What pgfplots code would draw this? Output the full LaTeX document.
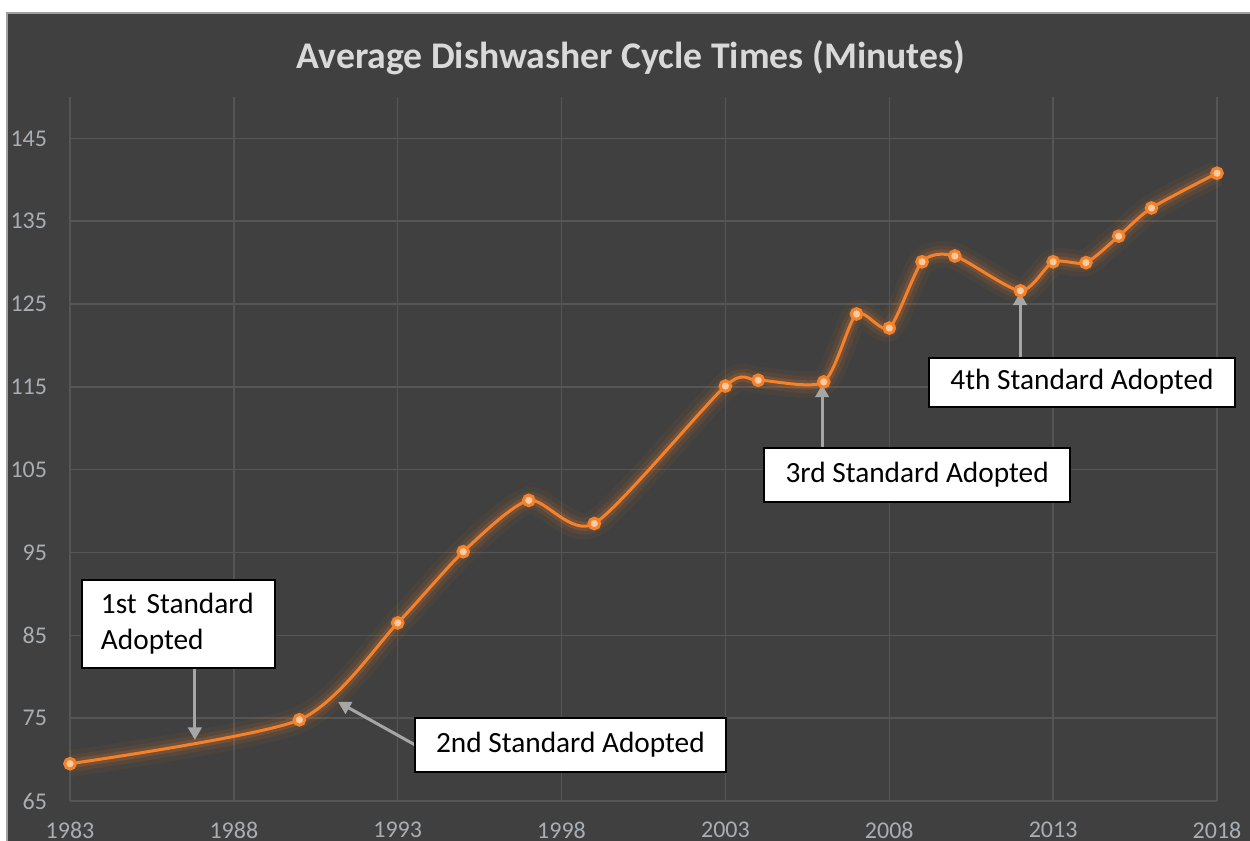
\documentclass[border=0pt]{standalone}
\usepackage{pgfplots}
\pgfplotsset{compat=1.18}
\usepackage{pgfplotstable}
\usepackage{fontspec}
\setmainfont{Carlito}
\usetikzlibrary{arrows.meta}
\definecolor{bg}{HTML}{404040}
\definecolor{gridcol}{HTML}{555555}
\definecolor{tickcol}{HTML}{A9AEB3}
\definecolor{titlecol}{HTML}{D9D9D9}
\definecolor{framegray}{HTML}{A0A0A0}
\definecolor{lineorange}{HTML}{F5822A}
\definecolor{peach}{HTML}{F9CBA3}
\definecolor{arrowgray}{HTML}{A6A6A6}

\pgfplotstableread{
year minutes
1983 69.5
1990 74.8
1993 86.5
1995 95.1
1997 101.3
1999 98.5
2003 115.1
2004 115.8
2006 115.6
2007 123.8
2008 122.1
2009 130.1
2010 130.8
2012 126.6
2013 130.1
2014 130.0
2015 133.2
2016 136.6
2018 140.8
}\cycledata

\begin{document}
\begin{tikzpicture}
\useasboundingbox (0,0) rectangle (750pt,504.6pt);
\clip (0,0) rectangle (750pt,504.6pt);
\fill[white] (0,0) rectangle (750pt,504.6pt);
\fill[bg] (4.2pt,-1pt) rectangle (752pt,496.8pt);
\draw[framegray, line width=0.8pt] (4.2pt,-1pt) -- (4.2pt,496.8pt) -- (752pt,496.8pt);
\node[titlecol, font=\bfseries\fontsize{22.6}{26}\selectfont] at (378.6pt,469.8pt) {Average Dishwasher Cycle Times (Minutes)};
\begin{axis}[
  at={(42pt,24pt)}, anchor=south west,
  scale only axis, width=688.2pt, height=422.4pt,
  xmin=1983, xmax=2018, ymin=65, ymax=150,
  xtick={1983,1988,...,2018}, ytick={65,75,...,145},
  axis line style={draw=none},
  major tick length=0pt,
  grid=major,
  major grid style={gridcol, line width=0.9pt},
  ticklabel style={text=tickcol, font=\fontsize{14.4}{16}\selectfont, inner sep=0pt},
  xticklabel style={anchor=north, yshift=-12.6pt},
  yticklabel style={anchor=east, xshift=-13.6pt},
  /pgf/number format/assume math mode=true,
  /pgf/number format/1000 sep={},
  clip=false,
]
\addplot[smooth, tension=0.42, line width=16pt, lineorange, opacity=0.05, forget plot] table[x=year, y=minutes] {\cycledata};
\addplot[smooth, tension=0.42, line width=10pt, lineorange, opacity=0.09, forget plot] table[x=year, y=minutes] {\cycledata};
\addplot[smooth, tension=0.42, line width=5.5pt, lineorange, opacity=0.16, forget plot] table[x=year, y=minutes] {\cycledata};
\addplot[smooth, tension=0.42, line width=1.8pt, lineorange, mark=*, mark size=3.2pt, mark options={fill=peach, draw=none}] table[x=year, y=minutes] {\cycledata};

\tikzset{annbox/.style={draw=black, fill=white, line width=1.2pt, text=black, font=\fontsize{17.6}{21.6}\selectfont, inner xsep=11.4pt, align=left},
         annarrow/.style={arrowgray, line width=1.8pt, -{Triangle[length=7.5pt,width=8pt]}}}
\draw[annarrow] (axis cs:1986.81,80.95) -- (axis cs:1986.81,72.37);
\draw[annarrow] (axis cs:1993.53,71.77) -- (axis cs:1991.18,76.96);
\draw[annarrow] (axis cs:2005.95,107.66) -- (axis cs:2005.95,115.27);
\draw[annarrow] (axis cs:2011.99,118.53) -- (axis cs:2011.99,126.39);

\node[annbox, text width=93pt, minimum height=52.8pt] at (axis cs:1986.31,86.39) {1st Standard\\Adopted};
\node[annbox, minimum width=186.6pt, minimum height=32.4pt] at (axis cs:1998.27,71.77) {2nd Standard Adopted};
\node[annbox, minimum width=183.6pt, minimum height=32.4pt] at (axis cs:2008.85,104.40) {3rd Standard Adopted};
\node[annbox, minimum width=183.6pt, minimum height=29.4pt] at (axis cs:2013.88,115.57) {4th Standard Adopted};
\end{axis}
\end{tikzpicture}
\end{document}
